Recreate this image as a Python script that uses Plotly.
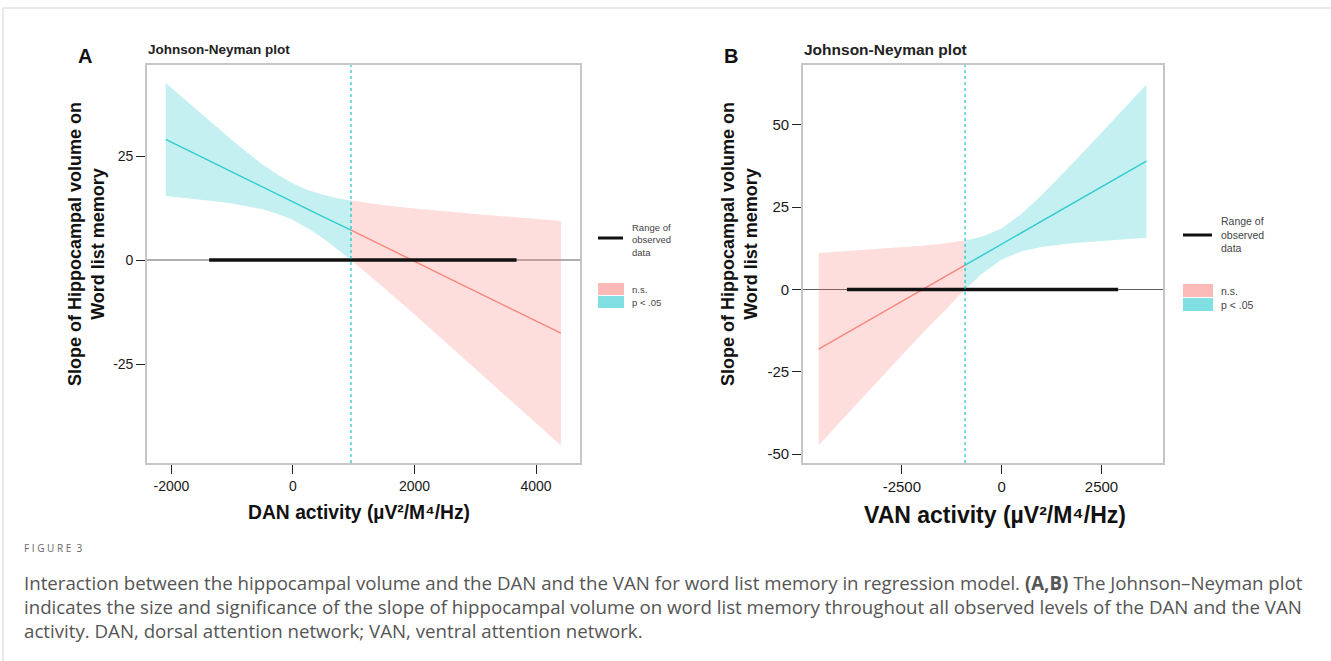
import plotly.graph_objects as go

W, H = 1331, 661

# ---------------- Panel A (DAN) ----------------
A_x_sig = [-2095, -1750, -1500, -1250, -1000, -750, -500, -250, 0, 250, 500, 750, 955]
A_fit_sig = [29.0, 26.5, 24.7, 23.0, 21.2, 19.4, 17.6, 15.8, 14.0, 12.2, 10.4, 8.6, 7.2]
A_up_sig = [42.6, 38.2, 35.0, 31.9, 28.8, 25.8, 23.0, 20.5, 18.4, 16.8, 15.7, 14.8, 14.3]
A_lo_sig = [15.4, 14.9, 14.5, 14.1, 13.6, 12.9, 12.2, 11.1, 9.6, 7.6, 5.2, 2.4, 0.0]

A_x_ns = [955, 1500, 2000, 2500, 3000, 3500, 4000, 4410]
A_fit_ns = [7.2, 3.2, -0.3, -3.9, -7.5, -11.1, -14.7, -17.6]
A_up_ns = [14.3, 13.2, 12.4, 11.7, 11.1, 10.5, 9.9, 9.4]
A_lo_ns = [0.0, -6.7, -13.1, -19.6, -26.1, -32.6, -39.2, -44.6]

A_observed = [-1380, 3680]
A_jn = 955
A_xticks = [-2000, 0, 2000, 4000]
A_xticklabels = ["-2000", "0", "2000", "4000"]
A_yticks = [-25, 0, 25]
A_yticklabels = ["-25", "0", "25"]

# ---------------- Panel B (VAN) ----------------
B_x_ns = [-4585, -4000, -3500, -3000, -2500, -2000, -1500, -917]
B_fit_ns = [-18.1, -14.0, -10.5, -7.0, -3.6, -0.1, 3.4, 7.4]
B_up_ns = [11.1, 11.6, 12.0, 12.4, 12.8, 13.3, 13.9, 14.9]
B_lo_ns = [-47.3, -39.6, -33.0, -26.5, -20.0, -13.5, -7.1, 0.0]

B_x_sig = [-917, -500, 0, 500, 1000, 1500, 2000, 2500, 3000, 3625]
B_fit_sig = [7.4, 10.3, 13.8, 17.3, 20.8, 24.2, 27.7, 31.2, 34.7, 39.0]
B_up_sig = [14.9, 16.0, 18.5, 23.0, 28.6, 34.8, 41.2, 47.6, 54.1, 62.3]
B_lo_sig = [0.0, 4.7, 9.1, 11.6, 12.9, 13.7, 14.3, 14.8, 15.2, 15.7]

B_observed = [-3875, 2915]
B_jn = -917
B_xticks = [-2500, 0, 2500]
B_xticklabels = ["-2500", "0", "2500"]
B_yticks = [-50, -25, 0, 25, 50]
B_yticklabels = ["-50", "-25", "0", "25", "50"]

CAPTION = [
    "Interaction between the hippocampal volume and the DAN and the VAN for word list memory in regression model. <b>(A,B)</b> The Johnson\u2013Neyman plot",
    "indicates the size and significance of the slope of hippocampal volume on word list memory throughout all observed levels of the DAN and the VAN",
    "activity. DAN, dorsal attention network; VAN, ventral attention network.",
]

PINK_FILL = "rgba(248,118,109,0.24)"
CYAN_FILL = "rgba(0,191,196,0.23)"
PINK_LINE = "rgba(248,118,109,0.85)"
CYAN_LINE = "rgba(0,191,196,0.75)"
FONT = "Liberation Sans, Arial, sans-serif"


def px(x):
    return x / W


def py(y):
    return 1 - y / H


fig = go.Figure()


def add_panel(xs_a, fit_a, up_a, lo_a, fill_a, line_a,
              xs_b, fit_b, up_b, lo_b, fill_b, line_b,
              observed, jn, xa, ya):
    for xs, up, lo, fc in ((xs_a, up_a, lo_a, fill_a), (xs_b, up_b, lo_b, fill_b)):
        fig.add_trace(go.Scatter(
            x=list(xs) + list(xs)[::-1], y=list(up) + list(lo)[::-1],
            fill="toself", fillcolor=fc, mode="lines", line=dict(width=0),
            hoverinfo="skip", showlegend=False, xaxis=xa, yaxis=ya))
    for xs, fit, lc in ((xs_a, fit_a, line_a), (xs_b, fit_b, line_b)):
        fig.add_trace(go.Scatter(
            x=xs, y=fit, mode="lines", line=dict(color=lc, width=1.4),
            hoverinfo="skip", showlegend=False, xaxis=xa, yaxis=ya))
    fig.add_trace(go.Scatter(
        x=observed, y=[0, 0], mode="lines", line=dict(color="#111111", width=3.5),
        hoverinfo="skip", showlegend=False, xaxis=xa, yaxis=ya))
    fig.add_shape(type="line", xref=f"{xa} domain", yref=ya, x0=0, x1=1, y0=0, y1=0,
                  line=dict(color="rgba(40,40,40,0.75)", width=1.1), layer="below")
    fig.add_shape(type="line", xref=xa, yref=f"{ya} domain", x0=jn, x1=jn, y0=0, y1=1,
                  line=dict(color="rgba(0,191,196,0.6)", width=1.8, dash="dot"))


add_panel(A_x_sig, A_fit_sig, A_up_sig, A_lo_sig, CYAN_FILL, CYAN_LINE,
          A_x_ns, A_fit_ns, A_up_ns, A_lo_ns, PINK_FILL, PINK_LINE,
          A_observed, A_jn, "x", "y")
add_panel(B_x_ns, B_fit_ns, B_up_ns, B_lo_ns, PINK_FILL, PINK_LINE,
          B_x_sig, B_fit_sig, B_up_sig, B_lo_sig, CYAN_FILL, CYAN_LINE,
          B_observed, B_jn, "x2", "y2")


def axis(domain, rng, tickvals, ticktext, anchor, size):
    return dict(domain=domain, range=rng, tickvals=tickvals, ticktext=ticktext, anchor=anchor,
                ticks="outside", ticklen=9, tickwidth=1.2, tickcolor="#222",
                showline=True, linecolor="#c6c6c6", linewidth=1.6, mirror=True,
                showgrid=False, zeroline=False,
                tickfont=dict(family=FONT, size=size, color="#1a1a1a"))


dom_y = [py(463), py(65)]
fig.update_layout(
    width=W, height=H, autosize=False,
    margin=dict(l=0, r=0, t=0, b=0),
    paper_bgcolor="white", plot_bgcolor="white",
    showlegend=False,
    xaxis=axis([px(147), px(580)], [-2403, 4724], A_xticks, A_xticklabels, "y", 14),
    yaxis=axis(dom_y, [-48.8, 46.9], A_yticks, A_yticklabels, "x", 14),
    xaxis2=axis([px(803), px(1163)], [-4975, 4040], B_xticks, B_xticklabels, "y2", 15),
    yaxis2=axis(dom_y, [-52.7, 68.2], B_yticks, B_yticklabels, "x2", 15),
)

ann = []


def text(x, y, s, size, color="#111", bold=False, xanchor="left", angle=0, family=FONT):
    ann.append(dict(x=px(x), y=py(y), xref="paper", yref="paper", text=f"<b>{s}</b>" if bold else s,
                    showarrow=False, xanchor=xanchor, yanchor="middle", textangle=angle,
                    font=dict(family=family, size=size, color=color), align="center"))


# panel letters and titles
text(85, 56, "A", 20, bold=True, xanchor="center")
text(731, 56, "B", 20, bold=True, xanchor="center")
text(146, 50, "Johnson-Neyman plot", 13.5, color="#222", bold=True)
text(802, 49, "Johnson-Neyman plot", 15.5, color="#222", bold=True)

# axis titles
text(86, 244, "Slope of Hippocampal volume on<br>Word list memory", 18, bold=True, xanchor="center", angle=-90)
text(739, 244, "Slope of Hippocampal volume on<br>Word list memory", 18, bold=True, xanchor="center", angle=-90)
text(359, 512, "DAN activity (\u00b5V\u00b2/M\u2074/Hz)", 19.3, bold=True, xanchor="center")
text(995, 515, "VAN activity (\u00b5V\u00b2/M\u2074/Hz)", 23, bold=True, xanchor="center")

# legends
shapes = []


def legend(x0, x1, yline, ytext, ybox1, ybox2, size):
    shapes.append(dict(type="line", xref="paper", yref="paper", x0=px(x0), x1=px(x1),
                       y0=py(yline), y1=py(yline), line=dict(color="#111", width=3)))
    shapes.append(dict(type="rect", xref="paper", yref="paper", x0=px(x0), x1=px(x1 + 1),
                       y0=py(ybox1[0]), y1=py(ybox1[1]), line=dict(width=0),
                       fillcolor="rgba(248,118,109,0.5)"))
    shapes.append(dict(type="rect", xref="paper", yref="paper", x0=px(x0), x1=px(x1 + 1),
                       y0=py(ybox2[0]), y1=py(ybox2[1]), line=dict(width=0),
                       fillcolor="rgba(0,191,196,0.5)"))
    ann.append(dict(x=px(x1 + 7), y=py(ytext), xref="paper", yref="paper",
                    text="Range of<br>observed<br>data", showarrow=False, xanchor="left",
                    yanchor="middle", align="left",
                    font=dict(family=FONT, size=size, color="#444")))
    text(x1 + 7, (ybox1[0] + ybox1[1]) / 2, "n.s.", size, color="#444")
    text(x1 + 7, (ybox2[0] + ybox2[1]) / 2, "p &lt; .05", size, color="#444")


legend(598, 623, 238, 240, (283, 295), (296, 308), 9.5)
legend(1183, 1212, 235, 235, (284, 297), (298, 311), 10.5)

# page frame
shapes.append(dict(type="line", xref="paper", yref="paper", x0=px(3), x1=1, y0=py(8), y1=py(8),
                   line=dict(color="#d4d4d4", width=1)))
shapes.append(dict(type="line", xref="paper", yref="paper", x0=px(3), x1=px(3), y0=py(8), y1=0,
                   line=dict(color="#d4d4d4", width=1)))

# caption
CAP_FONT = "Open Sans, sans-serif"
text(22, 548, "F I G U R E&nbsp;&nbsp;3", 10, color="#666", family=CAP_FONT)
for i, line in enumerate(CAPTION):
    text(22, 582 + 24 * i, line, 18.7, color="#555", family=CAP_FONT)

fig.update_layout(annotations=ann)
for s in shapes:
    fig.add_shape(**s)

fig.write_html("out.html", config={"displayModeBar": False},
               post_script="document.body.style.margin='0px';")
